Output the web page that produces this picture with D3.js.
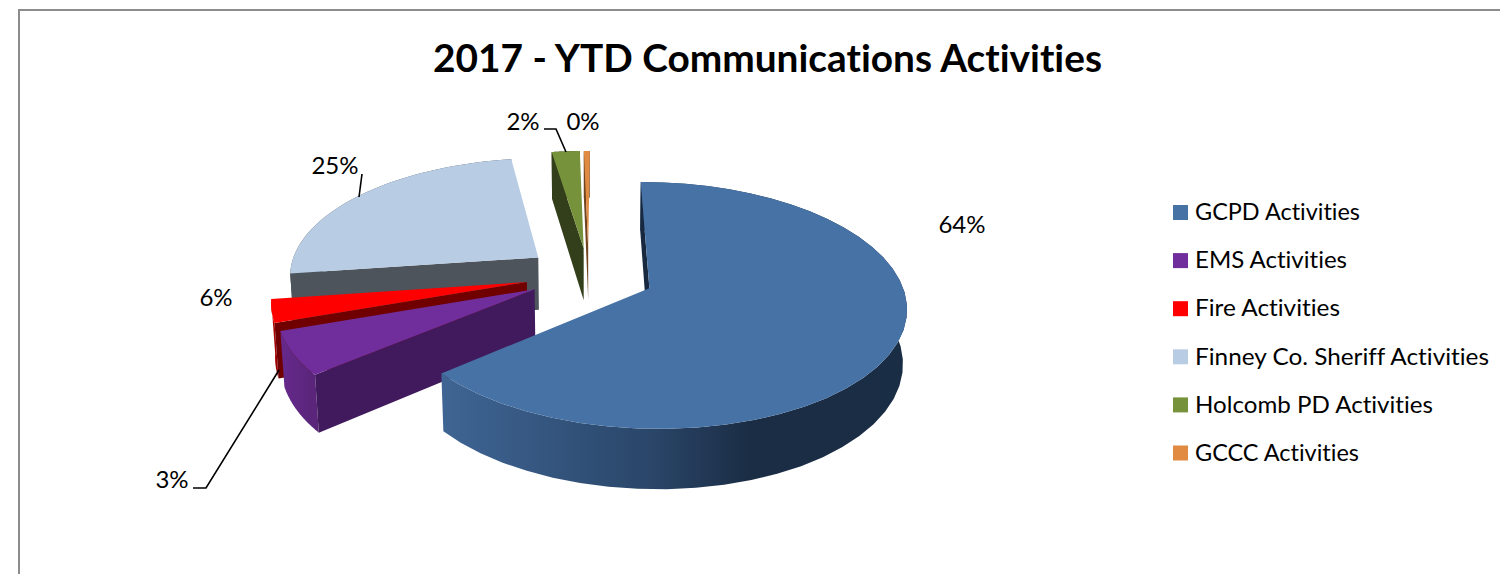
<!DOCTYPE html>
<html><head><meta charset="utf-8">
<script src="https://cdnjs.cloudflare.com/ajax/libs/d3/7.8.5/d3.min.js"></script>
<style>html,body{margin:0;padding:0;background:#fff;overflow:hidden}text{font-family:Lato,"Open Sans",sans-serif;fill:#000;font-variant-ligatures:none}</style>
</head><body><svg id="c" width="1500" height="574"></svg>
<script>
const titleText = "2017 - YTD Communications Activities";
const categories = ["GCPD Activities","EMS Activities","Fire Activities","Finney Co. Sheriff Activities","Holcomb PD Activities","GCCC Activities"];
const values = [63.8,5.75,3.08,24.8,2.1,0.44];
const topColors = ["#4672a6","#702e9c","#ff0000","#b8cce4","#76933c","#e08a42"];
const startWallColors = ["#18293f","#401a5c","#700000","#4d545c","#333f1a","#6e4520"];
const outerWallStops = [["#3f6594","#2a4669","#1b2d45","#192d44"],["#66298c","#582478"],["#c00000","#8a0000"],["#4d545c","#4d545c"],["#333f1a","#333f1a"],["#6e4520","#6e4520"]];
const explosions = [66,61,63,64,59,59];
const legendWidths = [165,152,145,294,238,164];
const labelPos = [[962,225],[216,298],[172,480],[335,166],[523,122],[583,122]];
const leaders = [null,null,[[193,488],[206,488],[279,370]],[[362,174],[359,197]],[[544,129],[556,129],[566,152]],null];

const svg = d3.select("#c");
const CX=588.6, CY=275, R=250, HEIGHT=61, TILT=28*Math.PI/180, DIST=1610, Z_PERSPECTIVE=0.7, FIRST_EDGE_SHIFT=0.7*Math.PI/180;
const sinT=Math.sin(TILT), cosT=Math.cos(TILT);
const radial=d3.scaleLinear().domain([0,1]).range([0,R]);
function project(gx,gy,z){const p=DIST/(DIST-gy*cosT-z*sinT*Z_PERSPECTIVE);return [CX+gx*p,CY+(gy*sinT-z*cosT)*p];}

const pie=d3.pie().value(d=>d).sort(null).startAngle(0.4*Math.PI/180).endAngle(360.4*Math.PI/180);
const arcs=pie(values);
arcs[0].startAngle-=FIRST_EDGE_SHIFT;
const slices=arcs.map((a,i)=>{
  const mid=(a.startAngle+a.endAngle)/2;
  const ox=explosions[i]*Math.sin(mid), oy=-explosions[i]*Math.cos(mid);
  const at=(t,z,r=1)=>project(ox+radial(r)*Math.sin(t),oy-radial(r)*Math.cos(t),z);
  const ts=d3.range(0,41).map(k=>a.startAngle+(a.endAngle-a.startAngle)*k/40);
  return {i,a,at,ts};
});
const line=d3.line().curve(d3.curveLinearClosed);
const defs=svg.append("defs");
svg.append("rect").attr("x",19).attr("y",10).attr("width",1600).attr("height",800).attr("fill","#fff").attr("stroke","#8c8c8c").attr("stroke-width",2);

svg.append("text").attr("x",433).attr("y",72).attr("font-size",38).attr("font-weight",700).attr("textLength",669).attr("lengthAdjust","spacingAndGlyphs").text(titleText);

const order=[3,4,5,2,1,0];
order.forEach(i=>{
  const s=slices[i], g=svg.append("g");
  const {at,ts,a}=s;
  const topArc=ts.map(t=>at(t,0)), botArc=ts.map(t=>at(t,-HEIGHT));
  const xs=d3.extent(topArc.concat(botArc),d=>d[0]);
  const id="w"+i, stops=outerWallStops[i];
  const gr=defs.append("linearGradient").attr("id",id).attr("gradientUnits","userSpaceOnUse").attr("x1",xs[0]).attr("x2",xs[1]).attr("y1",0).attr("y2",0);
  const offs = i===0 ? [0,0.45,0.66,1] : stops.map((_,k)=>k/(stops.length-1));
  stops.forEach((c,k)=>gr.append("stop").attr("offset",offs[k]).attr("stop-color",c));
  g.append("path").attr("d",line(topArc.concat(botArc.slice().reverse()))).attr("fill",`url(#${id})`);
  g.append("path").attr("d",line([at(a.startAngle,0,0),at(a.startAngle,0),at(a.startAngle,-HEIGHT),at(a.startAngle,-HEIGHT,0)])).attr("fill",startWallColors[i]);
  g.append("path").attr("d",line([at(a.startAngle,0,0)].concat(topArc))).attr("fill",topColors[i]);
});

leaders.forEach(l=>{ if(l) svg.append("path").attr("d",d3.line()(l)).attr("fill","none").attr("stroke","#000").attr("stroke-width",1.6);});
const total=d3.sum(values);
labelPos.forEach((p,i)=>svg.append("text").attr("x",p[0]).attr("y",p[1]+8).attr("text-anchor","middle").attr("font-size",24).text(Math.round(values[i]/total*100)+"%"));

const legendY=d3.scalePoint().domain(categories).range([212.5,453]);
const leg=svg.append("g");
categories.forEach((c,i)=>{
  leg.append("rect").attr("x",1173).attr("y",legendY(c)-7.5).attr("width",15).attr("height",15).attr("fill",topColors[i]);
  leg.append("text").attr("x",1195).attr("y",legendY(c)+7.7).attr("font-size",24).attr("textLength",legendWidths[i]).attr("lengthAdjust","spacingAndGlyphs").text(c);
});
</script></body></html>
